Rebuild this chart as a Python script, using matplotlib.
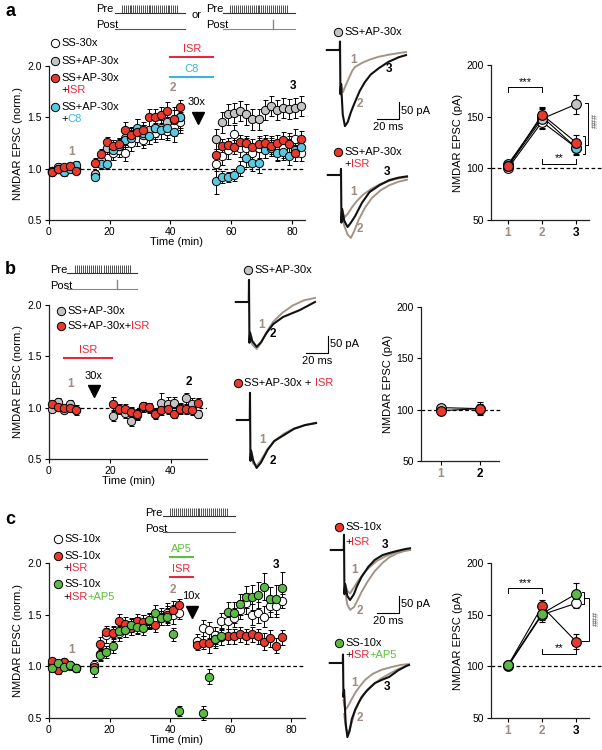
import numpy as np
import matplotlib
matplotlib.use('Agg')
import matplotlib.pyplot as plt

plt.rcParams['font.family'] = ['Liberation Sans', 'DejaVu Sans']

# ---------------- data: time courses (normalized EPSC) ----------------
a_time = [1, 3, 5, 7, 9, 15, 17, 19, 21, 23, 25, 27, 29, 31, 33, 35, 37, 39, 41, 43,
          55, 57, 59, 61, 63, 65, 67, 69, 71, 73, 75, 77, 79, 81, 83]
a_ss = [0.98, 1.00, 0.97, 1.02, 1.01, 0.94, 1.06, 1.10, 1.15, 1.18, 1.15, 1.25, 1.30, 1.28, 1.32,
        1.35, 1.38, 1.37, 1.42, 1.45, 1.05, 1.12, 1.18, 1.34, 1.20, 1.20, 1.15, 1.20, 1.20, 1.22,
        1.18, 1.20, 1.25, 1.29, 1.15]
a_ss_err = [0.03, 0.03, 0.04, 0.03, 0.03, 0.04, 0.06, 0.07, 0.07, 0.07, 0.08, 0.08, 0.08, 0.08, 0.08,
            0.09, 0.09, 0.09, 0.10, 0.10, 0.07, 0.08, 0.09, 0.09, 0.09, 0.10, 0.09, 0.10, 0.10, 0.10,
            0.10, 0.10, 0.10, 0.10, 0.08]
a_ap = [0.98, 1.02, 1.00, 1.02, 1.00, 0.95, 1.08, 1.20, 1.20, 1.22, 1.30, 1.32, 1.38, 1.33, 1.38,
        1.40, 1.40, 1.45, 1.47, 1.50, 1.29, 1.45, 1.53, 1.54, 1.56, 1.53, 1.48, 1.48, 1.57, 1.61,
        1.57, 1.59, 1.58, 1.59, 1.61]
a_ap_err = [0.03, 0.04, 0.03, 0.03, 0.03, 0.04, 0.06, 0.07, 0.08, 0.08, 0.09, 0.09, 0.10, 0.10, 0.10,
            0.11, 0.11, 0.12, 0.13, 0.12, 0.10, 0.10, 0.10, 0.10, 0.10, 0.10, 0.10, 0.10, 0.10, 0.10,
            0.10, 0.10, 0.10, 0.10, 0.10]
a_c8 = [0.97, 1.00, 0.97, 1.00, 1.04, 0.92, 1.05, 1.05, 1.18, 1.22, 1.28, 1.30, 1.40, 1.35, 1.32,
        1.40, 1.38, 1.40, 1.36, 1.50, 0.88, 0.92, 0.92, 0.94, 1.00, 1.10, 1.06, 1.06, 1.18, 1.20,
        1.15, 1.16, 1.12, 1.18, 1.21]
a_c8_err = [0.03, 0.03, 0.03, 0.03, 0.03, 0.03, 0.05, 0.05, 0.06, 0.07, 0.07, 0.08, 0.08, 0.08, 0.08,
            0.09, 0.09, 0.10, 0.10, 0.10, 0.13, 0.06, 0.05, 0.06, 0.07, 0.08, 0.08, 0.10, 0.08, 0.08,
            0.08, 0.08, 0.08, 0.07, 0.06]
a_isr = [0.97, 1.00, 1.02, 1.03, 0.98, 1.06, 1.14, 1.26, 1.22, 1.24, 1.38, 1.33, 1.36, 1.38, 1.50,
         1.50, 1.52, 1.56, 1.48, 1.60, 1.13, 1.22, 1.23, 1.21, 1.26, 1.25, 1.21, 1.24, 1.25, 1.22,
         1.25, 1.28, 1.24, 1.15, 1.29]
a_isr_err = [0.02, 0.03, 0.03, 0.03, 0.02, 0.04, 0.05, 0.05, 0.06, 0.06, 0.07, 0.07, 0.07, 0.07, 0.08,
             0.08, 0.08, 0.09, 0.09, 0.07, 0.06, 0.07, 0.07, 0.07, 0.07, 0.07, 0.08, 0.08, 0.08, 0.08,
             0.08, 0.08, 0.08, 0.08, 0.08]

b_time = [1, 3, 5, 7, 9, 21, 23, 25, 27, 29, 31, 33, 35, 37, 39, 41, 43, 45, 47, 49]
b_ap = [0.99, 1.06, 0.98, 1.04, 0.98, 0.92, 0.99, 0.95, 0.87, 0.93, 1.01, 1.00, 0.95, 1.05, 1.04,
        1.05, 1.00, 1.09, 1.04, 0.94]
b_ap_err = [0.03, 0.03, 0.03, 0.03, 0.03, 0.05, 0.05, 0.05, 0.05, 0.05, 0.05, 0.05, 0.05, 0.09, 0.06,
            0.05, 0.05, 0.05, 0.05, 0.04]
b_isr = [1.04, 1.01, 1.00, 1.00, 0.98, 1.04, 0.99, 0.99, 0.96, 0.94, 1.02, 1.01, 0.94, 0.98, 0.99,
         0.94, 0.99, 0.99, 0.98, 1.05]
b_isr_err = [0.03, 0.03, 0.03, 0.03, 0.05, 0.06, 0.05, 0.05, 0.05, 0.05, 0.04, 0.04, 0.05, 0.05, 0.05,
             0.04, 0.05, 0.05, 0.05, 0.04]

c_time = [1, 3, 5, 7, 9, 15, 17, 19, 21, 23, 25, 27, 29, 31, 33, 35, 37, 39, 41, 43,
          49, 51, 53, 55, 57, 59, 61, 63, 65, 67, 69, 71, 73, 75, 77]
c_ss = [1.02, 1.00, 1.04, 1.00, 0.98, 1.01, 1.12, 1.30, 1.32, 1.32, 1.35, 1.38, 1.40, 1.42, 1.44,
        1.45, 1.48, 1.52, 1.50, 1.52, 1.25, 1.37, 1.35, 1.30, 1.44, 1.44, 1.47, 1.55, 1.61, 1.50,
        1.52, 1.48, 1.58, 1.58, 1.63]
c_ss_err = [0.03, 0.03, 0.03, 0.03, 0.03, 0.05, 0.06, 0.07, 0.07, 0.07, 0.07, 0.08, 0.08, 0.08, 0.08,
            0.08, 0.08, 0.09, 0.09, 0.06, 0.06, 0.08, 0.08, 0.08, 0.08, 0.08, 0.09, 0.09, 0.10, 0.10,
            0.10, 0.10, 0.10, 0.10, 0.07]
c_isr = [1.05, 0.96, 1.04, 1.01, 0.98, 0.99, 1.22, 1.33, 1.32, 1.44, 1.41, 1.37, 1.44, 1.43, 1.44,
         1.40, 1.47, 1.50, 1.55, 1.59, 1.21, 1.23, 1.23, 1.26, 1.28, 1.29, 1.29, 1.31, 1.29, 1.31,
         1.29, 1.24, 1.27, 1.20, 1.28]
c_isr_err = [0.03, 0.03, 0.03, 0.03, 0.03, 0.05, 0.06, 0.06, 0.06, 0.07, 0.07, 0.07, 0.07, 0.07, 0.07,
             0.07, 0.07, 0.08, 0.08, 0.06, 0.05, 0.06, 0.10, 0.06, 0.07, 0.07, 0.07, 0.07, 0.07, 0.07,
             0.07, 0.08, 0.08, 0.07, 0.07]
c_ap5 = [0.98, 1.03, 0.99, 1.01, 0.98, 0.96, 1.11, 1.14, 1.20, 1.34, 1.35, 1.40, 1.38, 1.37, 1.45,
         1.52, 1.47, 1.48, 1.31, 0.57, np.nan, 0.55, 0.90, 1.26, 1.29, 1.53, 1.52, 1.60, 1.67, 1.67,
         1.69, 1.77, 1.65, 1.65, 1.76]
c_ap5_err = [0.03, 0.03, 0.03, 0.03, 0.03, 0.06, 0.06, 0.06, 0.07, 0.07, 0.07, 0.07, 0.07, 0.07, 0.07,
             0.07, 0.07, 0.08, 0.06, 0.05, 0.0, 0.07, 0.07, 0.08, 0.08, 0.09, 0.10, 0.10, 0.11, 0.12,
             0.13, 0.13, 0.12, 0.14, 0.15]

# ---------------- data: summary (pA) ----------------
sum_x3 = [1, 2, 3]
sum_x2 = [1, 2]
sa_ss, sa_ss_err = [100, 145, 120], [2, 7, 6]
sa_ap, sa_ap_err = [102, 148, 162], [3, 9, 9]
sa_c8, sa_c8_err = [104, 150, 120], [3, 8, 7]
sa_isr, sa_isr_err = [102, 152, 125], [3, 7, 7]
sb_ap, sb_ap_err = [102, 101], [2, 6]
sb_isr, sb_isr_err = [99, 101], [2, 5]
sc_ss, sc_ss_err = [100, 150, 161], [2, 7, 5]
sc_isr, sc_isr_err = [101, 158, 124], [2, 6, 7]
sc_ap5, sc_ap5_err = [101, 151, 170], [2, 6, 11]

# ---------------- data: example EPSC traces (ms, pA) ----------------
ta_top_1 = ([1.0, 2.7, 5.0, 8.2, 11.0, 13.6, 20.0, 26.4, 35.0, 44.0, 53.6, 60.0],
            [-100, -124, -105, -82, -62, -50, -38, -29, -20, -14, -9, -6])
ta_top_3 = ([-12, -0.2, 0, 0.4, 1.0, 2.5, 4.5, 7.0, 10.0, 13.6, 18.0, 22.7, 28.0, 35.5, 44.0, 53.6, 60.0],
            [0, 0, 25, -130, -100, -190, -224, -212, -182, -153, -120, -94, -72, -53, -35, -21, -15])
ta_bot_1 = ([1, 3, 6, 10, 14, 20, 28, 36, 44, 52, 60],
            [-100, -125, -115, -95, -78, -58, -40, -26, -17, -10, -6])
ta_bot_2 = ([1, 3, 6, 9, 12, 16, 22, 28, 36, 44, 52, 60],
            [-120, -150, -175, -185, -165, -132, -95, -68, -45, -30, -20, -14])
ta_bot_3 = ([-12, -0.2, 0, 0.4, 1, 3, 6, 9, 13, 19, 26, 35, 44, 52, 60],
            [0, 0, 18, -140, -100, -135, -153, -140, -120, -82, -50, -30, -15, -8, -4])
tb_top_1 = ([1, 3, 7, 11, 16, 22, 31, 40, 50, 60],
            [-110, -125, -138, -120, -88, -58, -30, -10, 5, 12])
tb_top_2 = ([-12, -0.2, 0, 0.4, 1, 3, 7, 11, 16, 22, 31, 40, 46, 53, 60],
            [0, 0, 65, -120, -90, -115, -132, -118, -91, -65, -44, -32, -24, -12, 0])
tb_bot_1 = ([1, 3, 6, 10, 16, 22, 31, 40, 50, 60],
            [-110, -128, -135, -118, -85, -62, -40, -25, -15, -8])
tb_bot_2 = ([-12, -0.2, 0, 0.4, 1, 3, 6, 10, 16, 22, 31, 40, 50, 60],
            [0, 0, 80, -120, -90, -120, -141, -125, -88, -62, -44, -26, -15, -9])
tc_top_1 = ([1, 3, 5.5, 9, 13, 18, 24, 30, 38, 46, 54, 60],
            [-100, -120, -128, -110, -90, -68, -48, -32, -18, -8, -2, 0])
tc_top_2 = ([1, 3, 5.5, 9, 12, 16, 22, 28, 35, 41, 48, 56, 60],
            [-120, -160, -176, -168, -150, -123, -90, -62, -38, -22, -10, -2, 0])
tc_top_3 = ([-12, -0.2, 0, 0.4, 1, 3, 5.5, 9, 12, 16, 22, 28, 35, 41, 48, 56, 60],
            [0, 0, 45, -130, -100, -135, -147, -130, -105, -79, -50, -29, -15, -9, -3, 3, 5])
tc_bot_1 = ([0.5, 2, 4, 7, 11, 15, 20, 27, 35, 44, 52, 60],
            [-110, -138, -130, -112, -88, -70, -50, -32, -20, -12, -6, -3])
tc_bot_2 = ([1, 3, 5, 8, 11, 15, 20, 27, 35, 42, 50, 58],
            [-150, -195, -205, -175, -140, -112, -88, -65, -45, -32, -18, -8])
tc_bot_3 = ([-12, -0.2, 0, 0.4, 1, 2.5, 4, 6, 8, 11, 14, 17, 22, 29, 35, 42, 50, 58, 60],
            [0, 0, 25, -100, -80, -180, -218, -200, -165, -138, -118, -100, -80, -59, -50, -41, -22, -8, -6])

# ---------------- style ----------------
RED = '#e8392e'
GRAY = '#c4c4c4'
CYAN = '#5cc8df'
GREEN = '#5cb946'
T_RED = '#e8283c'
T_CYAN = '#38b6dc'
T_GREEN = '#5cbf3a'
TAN = '#9c8c82'
TRACE_GRAY = '#a39488'

W, H = 602, 750
PX_MS, PX_PA = 1.1, 0.34
fig = plt.figure(figsize=(6.02, 7.5), dpi=100)


def add_ax(l, t, r, b):
    return fig.add_axes([l / W, 1 - b / H, (r - l) / W, (b - t) / H])


def base_style(ax):
    for s in ['top', 'right']:
        ax.spines[s].set_visible(False)
    for s in ['left', 'bottom']:
        ax.spines[s].set_linewidth(0.9)
        ax.spines[s].set_color('#222')
    ax.tick_params(labelsize=7.5, length=3, width=0.8, pad=2)
    ax.patch.set_alpha(0)


def style_time(ax, xmax):
    base_style(ax)
    ax.set_xlim(0, xmax)
    ax.set_ylim(0.5, 2.0)
    ax.set_yticks([0.5, 1.0, 1.5, 2.0])
    ax.set_yticklabels(['0.5', '1.0', '1.5', '2.0'])
    ax.plot([0, xmax], [1, 1], ls='--', color='k', lw=0.9, dashes=(3, 2), zorder=1)
    ax.set_ylabel('NMDAR EPSC (norm.)', fontsize=8, labelpad=3)
    ax.set_xlabel('Time (min)', fontsize=8, labelpad=0)


def series(ax, t, y, e, fc):
    ax.errorbar(t, y, yerr=e, fmt='o', mfc=fc, mec='k', mew=0.7, ms=6, ecolor='k',
                elinewidth=0.7, capsize=1.8, capthick=0.7, clip_on=False, zorder=3)


def style_sum(ax, xlim, dash_end, labels, colors):
    base_style(ax)
    ax.set_xlim(*xlim)
    ax.set_ylim(50, 200)
    ax.set_yticks([50, 100, 150, 200])
    ax.set_xticks(list(range(1, len(labels) + 1)))
    ax.set_xticklabels(labels, fontsize=8.5, fontweight='bold')
    for lab, c in zip(ax.get_xticklabels(), colors):
        lab.set_color(c)
    ax.plot([xlim[0], dash_end], [100, 100], ls='--', color='k', lw=0.9, dashes=(3, 2),
            clip_on=False, zorder=1)
    ax.set_ylabel('NMDAR EPSC (pA)', fontsize=8, labelpad=3)


def sum_series(ax, x, y, e, fc):
    ax.errorbar(x, y, yerr=e, fmt='-o', color='k', lw=0.8, mfc=fc, mec='k', mew=0.8, ms=7,
                ecolor='k', elinewidth=0.8, capsize=2.5, capthick=0.8, clip_on=False, zorder=3)


def hbracket(ax, x0, x1, y, tick, text, ty):
    ax.plot([x0, x0, x1, x1], [y + tick, y, y, y + tick], color='k', lw=0.7, clip_on=False)
    ax.text((x0 + x1) / 2, ty, text, ha='center', va='center', fontsize=8, clip_on=False)


def vbracket(ax, x, y0, y1, dx0, dx1):
    ax.plot([x - dx0, x, x, x - dx1], [y0, y0, y1, y1], color='k', lw=0.7, clip_on=False)


def trace_ax(sx, by, tmin=-12, tmax=80, vmin=-260, vmax=90):
    ax = add_ax(sx + tmin * PX_MS, by - vmax * PX_PA, sx + tmax * PX_MS, by - vmin * PX_PA)
    ax.set_xlim(tmin, tmax)
    ax.set_ylim(vmin, vmax)
    ax.axis('off')
    return ax


def draw_traces(ax, grays, black, labels):
    for tr in grays:
        ax.plot(tr[0], tr[1], color=TRACE_GRAY, lw=1.4, clip_on=False)
    ax.plot(black[0], black[1], color='#111', lw=1.5, clip_on=False)
    for txt, x, y, c in labels:
        ax.text(x, y, txt, color=c, fontsize=8.5, fontweight='bold', ha='center', va='center')


def scale_bar(ax, t0, v0):
    ax.plot([t0, t0 + 20, t0 + 20], [v0, v0, v0 + 50], color='k', lw=0.8, clip_on=False)
    ax.text(t0 + 22, v0 + 25, '50 pA', fontsize=8, va='center', ha='left')
    ax.text(t0 + 10, v0 - 10, '20 ms', fontsize=8, va='top', ha='center')


# ================= panel a =================
ax = add_ax(49, 66, 305, 220)
style_time(ax, 84.3)
ax.set_xticks([0, 20, 40, 60, 80])
series(ax, a_time, a_ss, a_ss_err, 'white')
series(ax, a_time, a_ap, a_ap_err, GRAY)
series(ax, a_time, a_c8, a_c8_err, CYAN)
series(ax, a_time, a_isr, a_isr_err, RED)
ax.plot([40, 54], [2.09, 2.09], color=T_RED, lw=1.5, clip_on=False)
ax.text(47, 2.17, 'ISR', color=T_RED, fontsize=8, ha='center', va='center')
ax.plot([40, 54], [1.89, 1.89], color=T_CYAN, lw=1.5, clip_on=False)
ax.text(47, 1.97, 'C8', color=T_CYAN, fontsize=8, ha='center', va='center')
ax.text(7.4, 1.16, '1', color=TAN, fontsize=8.5, fontweight='bold', ha='center', va='center')
ax.text(40.9, 1.79, '2', color=TAN, fontsize=8.5, fontweight='bold', ha='center', va='center')
ax.text(80.4, 1.81, '3', color='k', fontsize=8.5, fontweight='bold', ha='center', va='center')
ax.text(48.6, 1.65, '30x', fontsize=8, ha='center', va='center')
ax.plot([49], [1.49], marker='v', color='k', ms=8, clip_on=False)

ax = add_ax(491, 65, 589, 220)
style_sum(ax, (0.5, 3.38), 3.8, ['1', '2', '3'], [TAN, TAN, 'k'])
sum_series(ax, sum_x3, sa_ss, sa_ss_err, 'white')
sum_series(ax, sum_x3, sa_c8, sa_c8_err, CYAN)
sum_series(ax, sum_x3, sa_ap, sa_ap_err, GRAY)
sum_series(ax, sum_x3, sa_isr, sa_isr_err, RED)
hbracket(ax, 1, 2, 178.7, -4.5, '***', 183.5)
hbracket(ax, 2, 3, 104, 5, '**', 110)
vbracket(ax, 3.36, 163, 123, 0.1, 0.08)
vbracket(ax, 3.27, 131, 114, 0.07, 0.07)
ax.text(3.56, 146, '###', rotation=90, fontsize=6.5, color='#555', ha='center', va='center')

tax = trace_ax(340, 50)
draw_traces(tax, [ta_top_1], ta_top_3,
            [('1', 12.7, -29, TAN), ('2', 18, -160, TAN), ('3', 44.5, -55, 'k')])
scale_bar(tax, 33.6, -203)
tax = trace_ax(341, 175)
draw_traces(tax, [ta_bot_1, ta_bot_2], ta_bot_3,
            [('1', 11.8, -50, TAN), ('2', 17.3, -158, TAN), ('3', 41.8, 8, 'k')])

# ================= panel b =================
ax = add_ax(49, 305, 207, 459)
style_time(ax, 52)
ax.set_xticks([0, 20, 40])
series(ax, b_time, b_ap, b_ap_err, GRAY)
series(ax, b_time, b_isr, b_isr_err, RED)
ax.plot([4.9, 20.7], [1.48, 1.48], color=T_RED, lw=1.5, clip_on=False)
ax.text(12.8, 1.56, 'ISR', color=T_RED, fontsize=8, ha='center', va='center')
ax.text(7.2, 1.23, '1', color=TAN, fontsize=8.5, fontweight='bold', ha='center', va='center')
ax.text(46, 1.25, '2', color='k', fontsize=8.5, fontweight='bold', ha='center', va='center')
ax.text(14.8, 1.31, '30x', fontsize=8, ha='center', va='center')
ax.plot([14.8], [1.16], marker='v', color='k', ms=8, clip_on=False)

ax = add_ax(421, 307, 499, 461)
style_sum(ax, (0.49, 2.49), 2.51, ['1', '2'], [TAN, 'k'])
sum_series(ax, sum_x2, sb_ap, sb_ap_err, GRAY)
sum_series(ax, sum_x2, sb_isr, sb_isr_err, RED)

tax = trace_ax(249, 302)
draw_traces(tax, [tb_top_1], tb_top_2, [('1', 11.8, -68, TAN), ('2', 21.8, -94, 'k')])
scale_bar(tax, 51.8, -150)
tax = trace_ax(250, 420)
draw_traces(tax, [tb_bot_1], tb_bot_2, [('1', 11.8, -59, TAN), ('2', 20.9, -120, 'k')])

# ================= panel c =================
ax = add_ax(49, 563, 305, 718)
style_time(ax, 84.6)
ax.set_xticks([0, 20, 40, 60, 80])
series(ax, c_time, c_ss, c_ss_err, 'white')
series(ax, c_time, c_isr, c_isr_err, RED)
series(ax, c_time, c_ap5, c_ap5_err, GREEN)
ax.plot([40, 47.6], [2.06, 2.06], color=T_GREEN, lw=1.5, clip_on=False)
ax.text(43.8, 2.14, 'AP5', color=T_GREEN, fontsize=8, ha='center', va='center')
ax.plot([40, 47.6], [1.86, 1.86], color=T_RED, lw=1.5, clip_on=False)
ax.text(43.8, 1.94, 'ISR', color=T_RED, fontsize=8, ha='center', va='center')
ax.text(7.3, 1.16, '1', color=TAN, fontsize=8.5, fontweight='bold', ha='center', va='center')
ax.text(41, 1.74, '2', color=TAN, fontsize=8.5, fontweight='bold', ha='center', va='center')
ax.text(75, 1.98, '3', color='k', fontsize=8.5, fontweight='bold', ha='center', va='center')
ax.text(47, 1.68, '10x', fontsize=8, ha='center', va='center')
ax.plot([47.2], [1.53], marker='v', color='k', ms=8, clip_on=False)

ax = add_ax(491, 563, 589, 718)
style_sum(ax, (0.5, 3.38), 3.8, ['1', '2', '3'], [TAN, TAN, 'k'])
sum_series(ax, sum_x3, sc_ss, sc_ss_err, 'white')
sum_series(ax, sum_x3, sc_isr, sc_isr_err, RED)
sum_series(ax, sum_x3, sc_ap5, sc_ap5_err, GREEN)
hbracket(ax, 1, 2, 175.8, -4.5, '***', 181)
hbracket(ax, 2, 3, 112, 5, '**', 118)
vbracket(ax, 3.24, 172, 160, 0.07, 0.07)
vbracket(ax, 3.38, 166, 124.5, 0.14, 0.22)
ax.text(3.6, 146, '###', rotation=90, fontsize=6.5, color='#555', ha='center', va='center')

tax = trace_ax(344, 550)
draw_traces(tax, [tc_top_1, tc_top_2], tc_top_3,
            [('1', 10, -59, TAN), ('2', 14.5, -178, TAN), ('3', 37.3, 15, 'k')])
scale_bar(tax, 30, -185)
tax = trace_ax(343, 663)
draw_traces(tax, [tc_bot_1, tc_bot_2], tc_bot_3,
            [('1', 10.9, -59, TAN), ('2', 15.5, -162, TAN), ('3', 40, -71, 'k')])

# ================= overlay: labels, legends, protocols (pixel coords) =================
ov = fig.add_axes([0, 0, 1, 1])
ov.set_xlim(0, W)
ov.set_ylim(H, 0)
ov.axis('off')

for lab, x, y in [('a', 5, 11), ('b', 5, 270), ('c', 5, 519)]:
    ov.text(x, y, lab, fontsize=13, fontweight='bold', ha='left', va='center')


def legend_item(x, y, fc, parts, marker=True, size=8):
    if marker:
        ov.plot([x], [y], 'o', mfc=fc, mec='k', mew=0.7, ms=6)
        x = x + 6
    t = ov.text(x, y, parts[0][0], color=parts[0][1], fontsize=size, ha='left', va='center')
    for s, c in parts[1:]:
        t = ov.annotate(s, xy=(1, 0.5), xycoords=t, color=c, fontsize=size, ha='left', va='center')


legend_item(55, 43, 'white', [('SS-30x', 'k')])
legend_item(55, 61, GRAY, [('SS+AP-30x', 'k')])
legend_item(55, 78, RED, [('SS+AP-30x', 'k')])
legend_item(61, 90, None, [('+', 'k'), ('ISR', T_RED)], marker=False)
legend_item(55, 107, CYAN, [('SS+AP-30x', 'k')])
legend_item(61, 119, None, [('+', 'k'), ('C8', T_CYAN)], marker=False)

legend_item(338, 32, GRAY, [('SS+AP-30x', 'k')])
legend_item(338, 152, RED, [('SS+AP-30x', 'k')])
legend_item(344, 164, None, [('+', 'k'), ('ISR', T_RED)], marker=False)

legend_item(61, 311, GRAY, [('SS+AP-30x', 'k')])
legend_item(61, 326, RED, [('SS+AP-30x+', 'k'), ('ISR', T_RED)])
legend_item(248, 270, GRAY, [('SS+AP-30x', 'k')])
legend_item(238, 383, RED, [('SS+AP-30x + ', 'k'), ('ISR', T_RED)])

legend_item(58, 539, 'white', [('SS-10x', 'k')])
legend_item(58, 556, RED, [('SS-10x', 'k')])
legend_item(63, 568, None, [('+', 'k'), ('ISR', T_RED)], marker=False)
legend_item(58, 584, GREEN, [('SS-10x', 'k')])
legend_item(63, 597, None, [('+', 'k'), ('ISR', T_RED), ('+AP5', T_GREEN)], marker=False)

legend_item(339, 527, RED, [('SS-10x', 'k')])
legend_item(345, 542, None, [('+', 'k'), ('ISR', T_RED)], marker=False)
legend_item(339, 643, GREEN, [('SS-10x', 'k')])
legend_item(345, 655, None, [('+', 'k'), ('ISR', T_RED), ('+AP5', T_GREEN)], marker=False)


def protocol(x_txt, y_pre, x0, x1, p0, p1, n_pulse, spike=None, post_color='#777'):
    y_post = y_pre + 16
    ov.text(x_txt, y_pre, 'Pre', fontsize=8, ha='left', va='baseline')
    ov.text(x_txt, y_post, 'Post', fontsize=8, ha='left', va='baseline')
    ov.plot([x0, x1], [y_pre, y_pre], color='#333', lw=0.8)
    ov.vlines(np.linspace(p0, p1, n_pulse), y_pre - 8, y_pre, color='#333', lw=0.6)
    ov.plot([x0, x1], [y_post, y_post], color=post_color, lw=0.8)
    if spike is not None:
        ov.plot([spike, spike], [y_post, y_post - 9], color=post_color, lw=1.0)


protocol(96, 12.5, 115, 185, 122, 177, 30, post_color='#555')
ov.text(197, 15, 'or', fontsize=8, ha='center', va='center')
protocol(206, 12.5, 223, 295, 230, 287, 30, spike=273, post_color='#888')
protocol(50, 273, 67, 137, 75, 130, 28, spike=117, post_color='#888')
protocol(145, 516, 163, 235, 170, 227, 30, post_color='#555')

fig.savefig('out.png', dpi=100)
